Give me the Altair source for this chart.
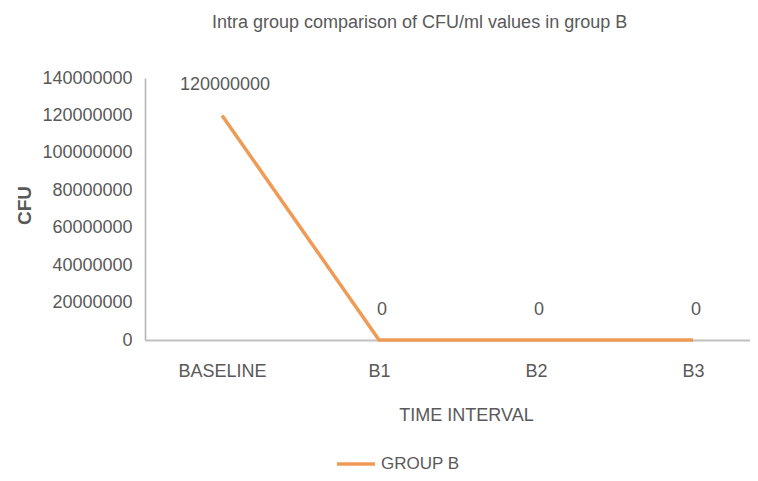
import altair as alt
import pandas as pd

categories = ["BASELINE", "B1", "B2", "B3"]
cfu_values = [120000000, 0, 0, 0]
value_labels = ["120000000", "0", "0", "0"]
series_name = "GROUP B"
y_ticks = [0, 20000000, 40000000, 60000000, 80000000, 100000000, 120000000, 140000000]

df = pd.DataFrame({
    "interval": categories,
    "cfu": cfu_values,
    "label": value_labels,
    "series": [series_name] * len(categories),
})

FONT = "Liberation Sans"
GREY = "#595959"
ORANGE = "#EF9B55"

x_enc = alt.X(
    "interval:N",
    sort=categories,
    scale=alt.Scale(type="point", padding=0.427, align=0.575),
    axis=alt.Axis(
        title="TIME INTERVAL",
        titleFont=FONT, titleFontSize=18, titleFontWeight="normal", titleColor=GREY,
        titleX=321, titleY=75, titleBaseline="middle",
        labelFont=FONT, labelFontSize=18, labelColor=GREY, labelPadding=22, labelAngle=0,
        ticks=False, grid=False, domainColor="#c0c0c0", domainWidth=2,
    ),
)
y_enc = alt.Y(
    "cfu:Q",
    scale=alt.Scale(domain=[0, 140000000]),
    axis=alt.Axis(
        title="CFU", values=y_ticks, tickCount=8, format="d", labelOverlap=False,
        titleFont=FONT, titleFontSize=19, titleFontWeight="bold", titleColor=GREY,
        titleX=-121, titleY=127, titleAngle=270, titleAlign="center", titleBaseline="middle",
        labelFont=FONT, labelFontSize=18, labelColor=GREY, labelPadding=13,
        ticks=False, grid=False, domainColor="#b0b0b0", domainWidth=1.5,
    ),
)

line = alt.Chart(df).mark_line(strokeWidth=3.5).encode(
    x=x_enc,
    y=y_enc,
    color=alt.Color(
        "series:N",
        scale=alt.Scale(domain=[series_name], range=[ORANGE]),
        legend=alt.Legend(
            title=None, orient="none", legendX=190, legendY=365,
            symbolType="stroke", symbolSize=1444, symbolStrokeWidth=3.5,
            labelFont=FONT, labelFontSize=17, labelColor=GREY, labelOffset=4,
        ),
    ),
)

text = alt.Chart(df).mark_text(
    font=FONT, fontSize=18, color=GREY, dy=-30, dx=3, baseline="middle"
).encode(
    x=x_enc,
    y=y_enc,
    text="label:N",
)

chart = alt.layer(line, text).properties(
    width=605,
    height=262,
    title=alt.TitleParams(
        "Intra group comparison of CFU/ml values in group B",
        anchor="start", frame="group", dx=67, offset=37,
        font=FONT, fontSize=18, fontWeight="normal", color=GREY,
    ),
    autosize=alt.AutoSizeParams(type="none"),
    padding={"left": 137, "top": 70, "right": 0, "bottom": 132},
).configure(background="white").configure_view(stroke=None)

chart.save("out.html", embed_options={"renderer": "svg", "actions": False})
